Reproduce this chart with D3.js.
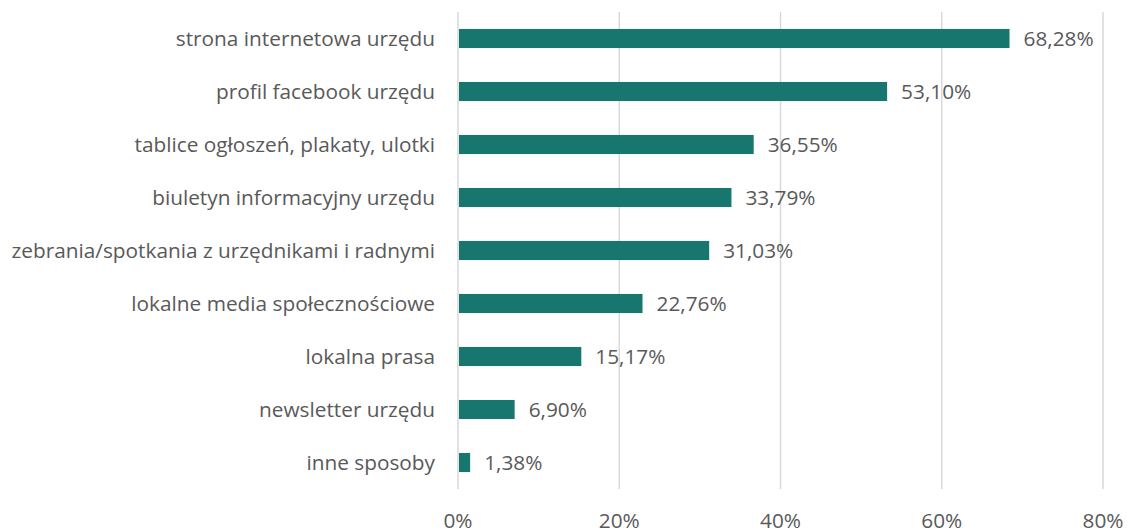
<!DOCTYPE html>
<html>
<head>
<meta charset="utf-8">
<script src="https://cdn.jsdelivr.net/npm/d3@7"></script>
<style>
  body { margin: 0; background: #fff; }
  svg text { font-family: "Open Sans", sans-serif; fill: #595959; }
</style>
</head>
<body>
<script>
var categories = [
  "strona internetowa urzędu",
  "profil facebook urzędu",
  "tablice ogłoszeń, plakaty, ulotki",
  "biuletyn informacyjny urzędu",
  "zebrania/spotkania z urzędnikami i radnymi",
  "lokalne media społecznościowe",
  "lokalna prasa",
  "newsletter urzędu",
  "inne sposoby"
];
var values = [68.28, 53.10, 36.55, 33.79, 31.03, 22.76, 15.17, 6.90, 1.38];
var ticks = [0, 20, 40, 60, 80];

var width = 1127, height = 528,
    margin = {top: 12, right: 24, bottom: 39, left: 458};

var svg = d3.select("body").append("svg")
  .attr("width", width)
  .attr("height", height);

var x = d3.scaleLinear()
  .domain([0, 80])
  .range([margin.left, 1103]);

var y = d3.scaleBand()
  .domain(categories)
  .range([margin.top, height - margin.bottom])
  .paddingInner(0.64)
  .paddingOuter(0.32);

svg.append("g")
  .selectAll("line")
  .data(ticks)
  .join("line")
  .attr("x1", function (d) { return x(d); })
  .attr("x2", function (d) { return x(d); })
  .attr("y1", margin.top)
  .attr("y2", height - margin.bottom)
  .attr("stroke", "#d9d9d9")
  .attr("stroke-width", 1.5);

svg.append("g")
  .selectAll("rect")
  .data(values)
  .join("rect")
  .attr("x", x(0) + 1)
  .attr("y", function (d, i) { return y(categories[i]); })
  .attr("width", function (d) { return x(d) - x(0); })
  .attr("height", y.bandwidth())
  .attr("fill", "#17766e");

svg.append("g")
  .selectAll("text")
  .data(values)
  .join("text")
  .attr("x", function (d) { return x(d) + 15; })
  .attr("y", function (d, i) { return y(categories[i]) + y.bandwidth() / 2; })
  .attr("dy", "0.36em")
  .style("font-size", "20.8px")
  .text(function (d) { return d.toFixed(2).replace(".", ",") + "%"; });

svg.append("g")
  .selectAll("text")
  .data(categories)
  .join("text")
  .attr("x", 435)
  .attr("y", function (d) { return y(d) + y.bandwidth() / 2; })
  .attr("dy", "0.36em")
  .attr("text-anchor", "end")
  .style("font-size", "20.8px")
  .text(function (d) { return d; });

svg.append("g")
  .selectAll("text")
  .data(ticks)
  .join("text")
  .attr("x", function (d) { return x(d); })
  .attr("y", 528)
  .attr("text-anchor", "middle")
  .style("font-size", "20.8px")
  .text(function (d) { return d + "%"; });
</script>
</body>
</html>
